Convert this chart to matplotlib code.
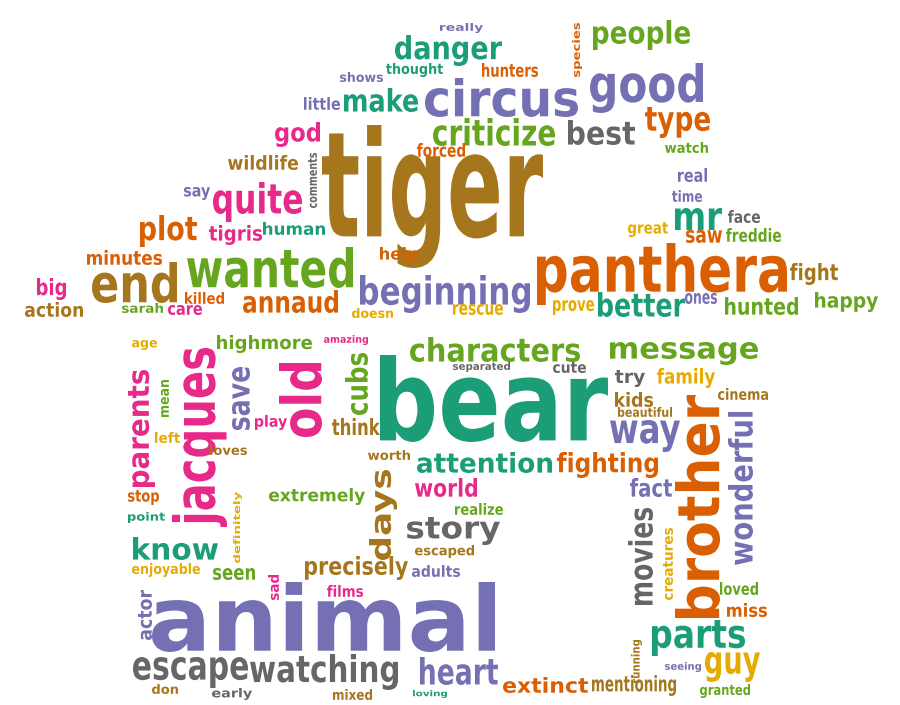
import matplotlib
matplotlib.use("Agg")
import matplotlib.pyplot as plt
from matplotlib.textpath import TextPath
from matplotlib.patches import PathPatch
from matplotlib.font_manager import FontProperties
from matplotlib.transforms import Affine2D

# word cloud: each word with its ink box (left, right, top, bottom) in pixels, rotation and colour key
words = ["tiger", "circus", "good", "people", "danger", "really", "species", "hunters", "thought", "shows",
         "little", "make", "criticize", "best", "type", "watch", "god", "forced", "wildlife", "comments",
         "say", "quite", "real", "time", "mr", "face", "great", "saw", "freddie", "plot",
         "tigris", "human", "minutes", "help", "end", "wanted", "beginning", "panthera", "fight", "happy",
         "hunted", "ones", "better", "prove", "rescue", "big", "action", "sarah", "care", "killed",
         "annaud", "doesn", "age", "highmore", "amazing", "jacques", "parents", "mean", "save", "old",
         "play", "cubs", "think", "left", "loves", "stop", "point", "definitely", "extremely", "know",
         "enjoyable", "characters", "separated", "cute", "bear", "worth", "attention", "fighting", "days", "world",
         "realize", "story", "escaped", "precisely", "adults", "seen", "sad", "films", "animal", "actor",
         "escape", "watching", "heart", "don", "early", "mixed", "loving", "extinct", "mentioning", "running",
         "parts", "seeing", "guy", "granted", "loved", "miss", "message", "try", "family", "cinema",
         "kids", "beautiful", "way", "fact", "brother", "wonderful", "movies", "creatures"]
left = [322, 425, 590, 593, 395, 440, 572, 482, 386, 340,
        304, 344, 433, 568, 645, 665, 275, 417, 228, 308,
        184, 213, 678, 672, 675, 728, 628, 686, 726, 140,
        209, 263, 87, 380, 92, 187, 360, 537, 790, 815,
        725, 685, 598, 553, 453, 37, 25, 122, 168, 185,
        243, 352, 132, 217, 324, 172, 128, 161, 232, 279,
        255, 345, 332, 155, 210, 128, 128, 233, 269, 133,
        132, 410, 453, 553, 380, 368, 417, 557, 369, 415,
        455, 407, 415, 305, 412, 213, 268, 327, 152, 138,
        133, 250, 420, 152, 212, 333, 413, 503, 592, 631,
        652, 665, 705, 700, 720, 727, 610, 615, 657, 718,
        615, 618, 610, 630, 675, 728, 628, 663]
right = [543, 578, 703, 690, 502, 483, 582, 538, 443, 383,
         340, 418, 555, 635, 710, 708, 320, 465, 298, 317,
         210, 302, 707, 702, 722, 760, 668, 722, 781, 197,
         262, 325, 162, 418, 177, 353, 530, 787, 838, 878,
         798, 717, 685, 594, 503, 66, 83, 163, 202, 224,
         338, 393, 157, 312, 368, 227, 155, 169, 250, 322,
         287, 368, 380, 180, 247, 159, 165, 242, 365, 218,
         200, 580, 510, 586, 608, 410, 552, 658, 397, 477,
         503, 500, 474, 408, 460, 255, 279, 363, 495, 152,
         248, 398, 498, 178, 252, 372, 447, 588, 676, 642,
         745, 701, 760, 750, 758, 767, 758, 645, 715, 768,
         653, 672, 680, 672, 720, 753, 653, 673]
top = [125, 78, 63, 20, 35, 23, 23, 63, 63, 72,
       97, 88, 118, 120, 107, 142, 122, 143, 155, 153,
       187, 182, 168, 190, 208, 210, 222, 230, 228, 215,
       225, 222, 250, 247, 262, 247, 275, 243, 263, 292,
       297, 293, 292, 300, 304, 278, 302, 303, 305, 292,
       290, 308, 340, 335, 335, 348, 370, 380, 367, 363,
       415, 353, 418, 432, 445, 490, 512, 492, 488, 537,
       563, 337, 362, 362, 355, 450, 452, 452, 470, 478,
       503, 517, 545, 556, 565, 568, 575, 585, 582, 590,
       657, 654, 657, 684, 688, 689, 690, 677, 675, 640,
       620, 662, 652, 684, 582, 603, 342, 370, 368, 388,
       392, 407, 420, 478, 395, 412, 508, 528]
bottom = [268, 117, 113, 50, 66, 33, 77, 77, 77, 82,
          110, 112, 146, 145, 138, 153, 147, 157, 170, 208,
          200, 222, 182, 202, 230, 223, 237, 243, 242, 247,
          245, 235, 265, 263, 303, 288, 313, 305, 285, 312,
          315, 304, 317, 315, 315, 300, 317, 313, 315, 304,
          313, 318, 350, 353, 345, 527, 487, 417, 430, 437,
          430, 415, 435, 443, 455, 505, 523, 563, 505, 560,
          577, 362, 372, 373, 442, 460, 473, 478, 560, 497,
          515, 545, 558, 580, 577, 580, 600, 597, 652, 640,
          688, 690, 685, 694, 700, 700, 698, 693, 696, 683,
          656, 672, 682, 698, 595, 617, 365, 387, 388, 400,
          407, 417, 452, 497, 618, 565, 605, 600]
vertical = ["species", "comments", "jacques", "parents", "mean", "save", "old", "cubs", "definitely",
            "days", "sad", "actor", "running", "brother", "wonderful", "movies", "creatures"]
colour_key = "BPPLGPOOGP" "PGLDOLKOBD" "PKPPGDYOLO" "KGOOBLPOBL" "LPGYYKBLKO" \
             "OYYLKKKLPK" "KLBYBOGYLG" "YLDDGBGOBK" "LDBBPLKKPP" "DDPBDBGOBB" \
             "GPYLLOLDYB" "BBPPOPDY"

palette = {"B": "#A6761D", "P": "#7570B3", "L": "#66A61E", "G": "#1B9E77",
           "O": "#D95F02", "K": "#E7298A", "Y": "#E6AB02", "D": "#666666"}

W, H = 900, 705
fig = plt.figure(figsize=(9, 7.05), dpi=100)
ax = fig.add_axes([0, 0, 1, 1])
ax.set_xlim(0, W)
ax.set_ylim(0, H)
ax.axis("off")

fp = FontProperties(family="DejaVu Sans", weight="bold")
for i, w in enumerate(words):
    path = TextPath((0, 0), w, prop=fp, size=100)
    ext = path.get_extents()
    bw, bh = ext.x1 - ext.x0, ext.y1 - ext.y0
    sw, sh = right[i] - left[i], bottom[i] - top[i]
    t = Affine2D().translate(-ext.x0, -ext.y0)
    if w in vertical:
        t = t.scale(sh / bw, sw / bh).rotate_deg(90).translate(right[i], H - bottom[i])
    else:
        t = t.scale(sw / bw, sh / bh).translate(left[i], H - bottom[i])
    ax.add_patch(PathPatch(t.transform_path(path), facecolor=palette[colour_key[i]],
                           edgecolor="none"))

fig.savefig("out.png", dpi=100, facecolor="white")
